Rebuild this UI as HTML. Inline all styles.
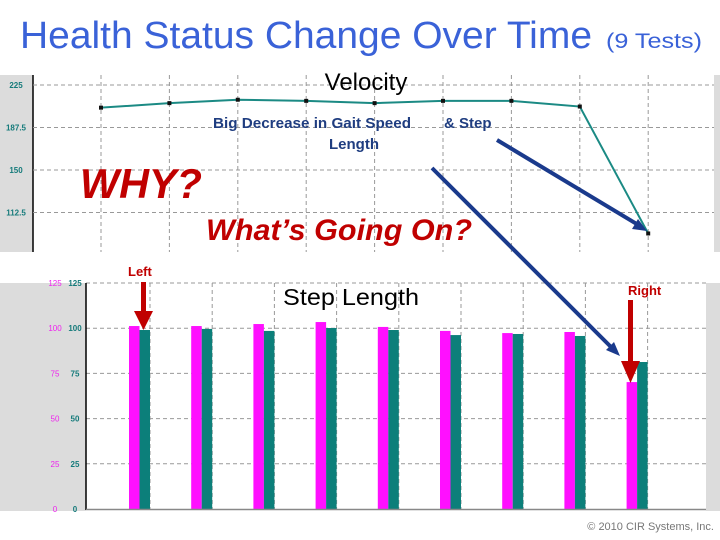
<!DOCTYPE html>
<html><head><meta charset="utf-8"><style>
body{margin:0;background:#fff;}
svg{display:block;font-family:"Liberation Sans",sans-serif;}
</style></head><body>
<svg id="s" width="720" height="540" viewBox="0 0 720 540">
<text x="20" y="48" font-size="38" fill="#3a62d8" textLength="572" lengthAdjust="spacingAndGlyphs">Health Status Change Over Time</text>
<text x="606" y="48" font-size="21" fill="#3a62d8" textLength="96" lengthAdjust="spacingAndGlyphs">(9 Tests)</text>
<g id="topG"></g>
<g id="botG"></g>
<g id="ann">
<text x="366" y="90" font-size="24" text-anchor="middle" fill="#000">Velocity</text>
<text x="213" y="128" font-size="15" font-weight="bold" fill="#1f3d80" textLength="198" lengthAdjust="spacingAndGlyphs">Big Decrease in Gait Speed</text>
<text x="444" y="128" font-size="15" font-weight="bold" fill="#1f3d80">&amp; Step</text>
<text x="354" y="149" font-size="15" font-weight="bold" fill="#1f3d80" text-anchor="middle">Length</text>
<text x="80" y="198" font-size="42" font-weight="bold" font-style="italic" fill="#c00000" textLength="122" lengthAdjust="spacingAndGlyphs">WHY?</text>
<text x="206" y="240" font-size="30" font-weight="bold" font-style="italic" fill="#c00000" textLength="266" lengthAdjust="spacingAndGlyphs">What’s Going On?</text>
<text x="351" y="305" font-size="23" text-anchor="middle" fill="#000" textLength="136" lengthAdjust="spacingAndGlyphs">Step Length</text>
<line x1="497" y1="140" x2="640" y2="226" stroke="#1a3a8c" stroke-width="4"/>
<polygon points="647,231 632,229 638,219" fill="#1a3a8c"/>
<line x1="432" y1="168" x2="614" y2="350" stroke="#1a3a8c" stroke-width="4"/>
<polygon points="620,356 606,350 614,342" fill="#1a3a8c"/>
<text x="128" y="276" font-size="13" font-weight="bold" fill="#c00000">Left</text>
<rect x="141" y="282" width="5" height="30" fill="#c00000"/>
<polygon points="134,311 153,311 143.5,330" fill="#c00000"/>
<text x="628" y="295" font-size="13" font-weight="bold" fill="#c00000">Right</text>
<rect x="628" y="300" width="5" height="62" fill="#c00000"/>
<polygon points="621,361 640,361 630.5,383" fill="#c00000"/>
<text x="714" y="530" font-size="11" fill="#777" text-anchor="end">© 2010 CIR Systems, Inc.</text>
</g>
</svg>
<script>
const tests = [1,2,3,4,5,6,7,8,9];
const velocity = [205, 209, 212, 211, 209, 211, 211, 206, 94];
const velTicks = [225, 187.5, 150, 112.5];
const leftStep = [101.2, 101.2, 102.3, 103.4, 100.7, 98.5, 97.3, 97.9, 70.2];
const rightStep = [99, 99.6, 98.5, 100.1, 99, 96.2, 96.8, 95.7, 81.3];
const stepTicks = [0, 25, 50, 75, 100, 125];

const NS = "http://www.w3.org/2000/svg";
function mk(p, tag, attrs){const e=document.createElementNS(NS,tag);for(const k in attrs)e.setAttribute(k,attrs[k]);p.appendChild(e);return e;}

// velocity chart
const topG = document.getElementById('topG');
const vx = i => 101 + (i) * 68.4;
const vy = v => 85 + (225 - v) / 37.5 * 42.5;
let r = mk(topG,'rect',{x:0,y:75,width:33,height:177,fill:'#dcdcdc'});


r = mk(topG,'rect',{x:714,y:75,width:6,height:177,fill:'#dcdcdc'});


r = mk(topG,'line',{x1:33,y1:75,x2:33,y2:252,stroke:'#000','stroke-width':1.5});


velTicks.forEach(t=>{
  const g = mk(topG,'line',{x1:33,x2:714,y1:vy(t),y2:vy(t),stroke:'#999','stroke-dasharray':'4,3'});
  
  
  const l = mk(topG,'text',{x:16,y:vy(t)+3,'font-size':8,'font-weight':'bold',fill:'#147a7a','text-anchor':'middle'});
  l.textContent = t;
  
  
});
tests.forEach((d,i)=>{
  const g = mk(topG,'line',{x1:vx(i),x2:vx(i),y1:75,y2:252,stroke:'#999','stroke-dasharray':'4,3'});
  
  
});
const pl = mk(topG,'polyline',{points:velocity.map((v,i)=>vx(i)+','+vy(v)).join(' '),fill:'none',stroke:'#1b8a84','stroke-width':2});


velocity.forEach((v,i)=>{
  const p = mk(topG,'rect',{x:vx(i)-2,y:vy(v)-2,width:4,height:4,fill:'#111'});
  
  
});

// step length chart
const botG = document.getElementById('botG');
const gx = i => 150 + i * 62.2;
const sy = v => 509 - v / 25 * 45.2;
r = mk(botG,'rect',{x:0,y:283,width:86,height:228,fill:'#dcdcdc'});


r = mk(botG,'rect',{x:706,y:283,width:14,height:228,fill:'#dcdcdc'});


stepTicks.forEach(t=>{
  if(t>0){
    const g = mk(botG,'line',{x1:86,x2:706,y1:sy(t),y2:sy(t),stroke:'#999','stroke-dasharray':'4,3'});
    
    
  }
  const a = mk(botG,'text',{x:55,y:sy(t)+3,'font-size':8,fill:'#ee22ee','text-anchor':'middle'});
  a.textContent = t;
  
  
  const b = mk(botG,'text',{x:75,y:sy(t)+3,'font-size':8,'font-weight':'bold',fill:'#147a7a','text-anchor':'middle'});
  b.textContent = t;
  
  
});
tests.forEach((d,i)=>{
  const g = mk(botG,'line',{x1:gx(i),x2:gx(i),y1:283,y2:509,stroke:'#999','stroke-dasharray':'4,3'});
  
  
  const m = mk(botG,'rect',{x:gx(i)-21,y:sy(leftStep[i]),width:10.5,height:sy(0)-sy(leftStep[i]),fill:'#ff10ff'});
  
  
  const tb = mk(botG,'rect',{x:gx(i)-10.5,y:sy(rightStep[i]),width:10.5,height:sy(0)-sy(rightStep[i]),fill:'#0c7f7a'});
  
  
});
r = mk(botG,'line',{x1:86,y1:283,x2:86,y2:510,stroke:'#000','stroke-width':1.5});


r = mk(botG,'line',{x1:86,y1:509.5,x2:706,y2:509.5,stroke:'#888','stroke-width':1.5});


document.getElementById('s').appendChild(document.getElementById('ann'));
</script>
</body></html>
